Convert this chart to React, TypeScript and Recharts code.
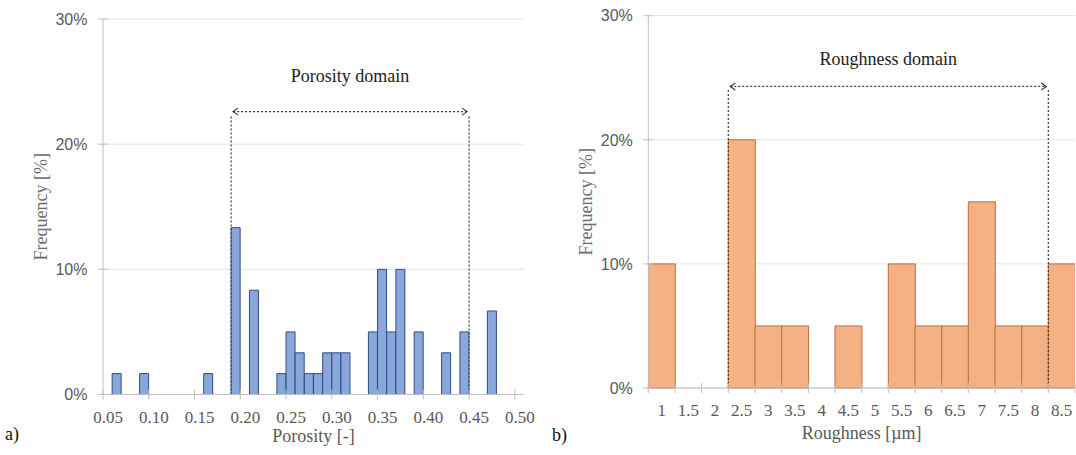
import { BarChart, Bar, XAxis, YAxis, CartesianGrid, ReferenceLine } from "recharts";

const SERIF = '"Liberation Serif", "Times New Roman", serif';
const SANS = '"Liberation Sans", Arial, sans-serif';
const AXIS_COLOR = "#bfbfbf";
const GRID_COLOR = "#e3e3e3";
const TICK_COLOR = "#595959";
const TITLE_COLOR = "#6b6b6b";
const GUIDE_COLOR = "#3a3a3a";

// frequency axis shared by both histograms, in percent of samples
const FREQ_TICKS = [0, 10, 20, 30];

// porosity: lower edge of every non-empty 0.01 bin and its share of samples
const POROSITY_TICKS = [0.05, 0.1, 0.15, 0.2, 0.25, 0.3, 0.35, 0.4, 0.45, 0.5];
const POROSITY_BINS = [
  0.06, 0.09, 0.16, 0.19, 0.21, 0.24, 0.25, 0.26, 0.27, 0.28, 0.29, 0.3, 0.31,
  0.34, 0.35, 0.36, 0.37, 0.39, 0.42, 0.44, 0.47,
];
const POROSITY_FREQ = [
  1.67, 1.67, 1.67, 13.33, 8.33, 1.67, 5, 3.33, 1.67, 1.67, 3.33, 3.33, 3.33,
  5, 10, 5, 10, 5, 3.33, 5, 6.67,
];
const POROSITY_BIN_WIDTH = 0.01;
const POROSITY_RANGE = [0.19, 0.45];
const POROSITY_RANGE_LEVEL = 22.6;

// roughness: bin centres in µm
const ROUGHNESS_BINS = [1, 1.5, 2, 2.5, 3, 3.5, 4, 4.5, 5, 5.5, 6, 6.5, 7, 7.5, 8, 8.5];
const ROUGHNESS_FREQ = [10, 0, 0, 20, 5, 5, 0, 5, 0, 10, 5, 5, 15, 5, 5, 10];
const ROUGHNESS_BIN_WIDTH = 0.5;
const ROUGHNESS_RANGE = [2.25, 8.25];
const ROUGHNESS_RANGE_LEVEL = 24.3;

const porosityData = POROSITY_BINS.map((b, i) => ({
  x: b + POROSITY_BIN_WIDTH / 2,
  freq: POROSITY_FREQ[i],
}));

const roughnessData = ROUGHNESS_BINS.map((b, i) => ({ x: b, freq: ROUGHNESS_FREQ[i] }));

// labels sit on bin centres, tick marks on the bin edges
const roughnessEdges = [
  ...ROUGHNESS_BINS.map((b) => b - ROUGHNESS_BIN_WIDTH / 2),
  ROUGHNESS_BINS[ROUGHNESS_BINS.length - 1] + ROUGHNESS_BIN_WIDTH / 2,
];
const roughnessTicks = [...ROUGHNESS_BINS, ...roughnessEdges].sort((a, b) => a - b);

const FreqTick = (props: any) => {
  const { x, y, payload } = props;
  return (
    <g>
      <line x1={x - 5} x2={x + 5} y1={y} y2={y} stroke={AXIS_COLOR} />
      <text
        x={x - 15.5}
        y={y}
        dy="0.36em"
        textAnchor="end"
        fontFamily={SANS}
        fontSize={16}
        fill={TICK_COLOR}
      >
        {payload.value}%
      </text>
    </g>
  );
};

const PorosityTick = (props: any) => {
  const { x, y, payload } = props;
  return (
    <g>
      <line x1={x} x2={x} y1={y - 5} y2={y + 5} stroke={AXIS_COLOR} />
      <text
        x={x + 5}
        y={y + 28}
        textAnchor="middle"
        fontFamily={SERIF}
        fontSize={17}
        fill={TICK_COLOR}
      >
        {payload.value.toFixed(2)}
      </text>
    </g>
  );
};

const RoughnessTick = (props: any) => {
  const { x, y, payload } = props;
  if (!ROUGHNESS_BINS.includes(payload.value)) {
    return <line x1={x} x2={x} y1={y - 5} y2={y + 5} stroke={AXIS_COLOR} />;
  }
  return (
    <text
      x={x}
      y={y + 28}
      textAnchor="middle"
      fontFamily={SERIF}
      fontSize={17}
      fill={TICK_COLOR}
    >
      {payload.value}
    </text>
  );
};

const freqTitle = (props: any) => {
  const vb = props.viewBox ?? { x: 0, y: 0, width: 0, height: 0 };
  const cx = vb.x + vb.width - 62;
  const cy = vb.y + vb.height / 2;
  return (
    <text
      x={cx}
      y={cy}
      transform={`rotate(-90 ${cx} ${cy})`}
      textAnchor="middle"
      dominantBaseline="central"
      fontFamily={SERIF}
      fontSize={18}
      fill={TITLE_COLOR}
    >
      Frequency [%]
    </text>
  );
};

// dotted double-headed arrow spanning the domain
const RangeArrow = (props: any) => {
  const { x1, y1, x2 } = props;
  const h = 5;
  const l = x1 + 2;
  const r = x2 - 2;
  return (
    <g stroke={GUIDE_COLOR} strokeWidth={1.2} fill="none">
      <line x1={l} y1={y1} x2={r} y2={y1} strokeDasharray="2 2" />
      <polyline points={`${l + h},${y1 - h * 0.7} ${l},${y1} ${l + h},${y1 + h * 0.7}`} />
      <polyline points={`${r - h},${y1 - h * 0.7} ${r},${y1} ${r - h},${y1 + h * 0.7}`} />
    </g>
  );
};

const guideProps = {
  stroke: GUIDE_COLOR,
  strokeWidth: 1.2,
  strokeDasharray: "2 2",
};

const domainLabel = (text: string, offset: number) => ({
  value: text,
  position: "top" as const,
  offset,
  fill: "#1c1c1c",
  fontFamily: SERIF,
  fontSize: 18,
});

function PorosityChart() {
  return (
    <BarChart
      width={540}
      height={455}
      data={porosityData}
      margin={{ top: 19, right: 16, bottom: 0, left: 0 }}
      barCategoryGap={0}
      barGap={0}
    >
      <CartesianGrid vertical={false} stroke={GRID_COLOR} />
      <XAxis
        dataKey="x"
        type="number"
        domain={[0.05, 0.51]}
        ticks={POROSITY_TICKS}
        interval={0}
        allowDataOverflow
        height={60.5}
        tickSize={0}
        tickMargin={0}
        tickLine={false}
        axisLine={{ stroke: AXIS_COLOR }}
        tick={PorosityTick}
        label={{
          value: "Porosity [-]",
          position: "insideBottom",
          offset: 13,
          fill: TICK_COLOR,
          fontFamily: SERIF,
          fontSize: 18,
        }}
      />
      <YAxis
        type="number"
        domain={[0, 30]}
        ticks={FREQ_TICKS}
        interval={0}
        width={103}
        tickSize={0}
        tickMargin={0}
        tickLine={false}
        axisLine={{ stroke: AXIS_COLOR }}
        tick={FreqTick}
        label={freqTitle}
      />
      <Bar
        dataKey="freq"
        fill="#8aa7db"
        stroke="#2f4d82"
        strokeWidth={1}
        isAnimationActive={false}
      />
      {POROSITY_RANGE.map((v) => (
        <ReferenceLine
          key={v}
          segment={[
            { x: v, y: 0 },
            { x: v, y: POROSITY_RANGE_LEVEL - 0.25 },
          ]}
          {...guideProps}
        />
      ))}
      <ReferenceLine
        segment={[
          { x: POROSITY_RANGE[0], y: POROSITY_RANGE_LEVEL },
          { x: POROSITY_RANGE[1], y: POROSITY_RANGE_LEVEL },
        ]}
        shape={RangeArrow}
        label={domainLabel("Porosity domain", 30)}
      />
    </BarChart>
  );
}

function RoughnessChart() {
  return (
    <BarChart
      width={536}
      height={455}
      data={roughnessData}
      margin={{ top: 15.7, right: 1, bottom: 0, left: 0 }}
      barCategoryGap={0}
      barGap={0}
    >
      <CartesianGrid vertical={false} stroke={GRID_COLOR} />
      <XAxis
        dataKey="x"
        type="number"
        domain={[0.75, 8.75]}
        ticks={roughnessTicks}
        interval={0}
        allowDataOverflow
        height={67}
        tickSize={0}
        tickMargin={0}
        tickLine={false}
        axisLine={{ stroke: AXIS_COLOR }}
        tick={RoughnessTick}
        label={{
          value: "Roughness [µm]",
          position: "insideBottom",
          offset: 16,
          fill: TICK_COLOR,
          fontFamily: SERIF,
          fontSize: 18,
        }}
      />
      <YAxis
        type="number"
        domain={[0, 30]}
        ticks={FREQ_TICKS}
        interval={0}
        width={108.3}
        tickSize={0}
        tickMargin={0}
        tickLine={false}
        axisLine={{ stroke: AXIS_COLOR }}
        tick={FreqTick}
        label={freqTitle}
      />
      <Bar
        dataKey="freq"
        fill="#f4b183"
        stroke="#b96f3b"
        strokeWidth={1}
        isAnimationActive={false}
      />
      {ROUGHNESS_RANGE.map((v) => (
        <ReferenceLine
          key={v}
          segment={[
            { x: v, y: 0 },
            { x: v, y: ROUGHNESS_RANGE_LEVEL - 0.15 },
          ]}
          {...guideProps}
        />
      ))}
      <ReferenceLine
        segment={[
          { x: ROUGHNESS_RANGE[0], y: ROUGHNESS_RANGE_LEVEL },
          { x: ROUGHNESS_RANGE[1], y: ROUGHNESS_RANGE_LEVEL },
        ]}
        shape={RangeArrow}
        label={domainLabel("Roughness domain", 21)}
      />
    </BarChart>
  );
}

export default function App() {
  return (
    <div
      style={{
        position: "absolute",
        left: 0,
        top: 0,
        width: 1076,
        height: 455,
        background: "#fff",
        overflow: "hidden",
      }}
    >
      <div style={{ position: "absolute", left: 0, top: 0 }}>
        <PorosityChart />
      </div>
      <div style={{ position: "absolute", left: 540, top: 0 }}>
        <RoughnessChart />
      </div>
      <svg
        width={1076}
        height={455}
        style={{ position: "absolute", left: 0, top: 0, pointerEvents: "none" }}
      >
        <text x={5} y={440} fontFamily={SERIF} fontSize={18} fill="#111">
          a)
        </text>
        <text x={552} y={441} fontFamily={SERIF} fontSize={18} fill="#111">
          b)
        </text>
      </svg>
    </div>
  );
}
